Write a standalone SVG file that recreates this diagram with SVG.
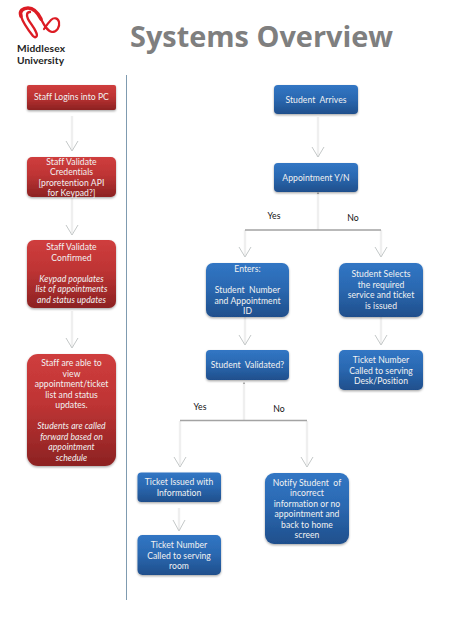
<svg xmlns="http://www.w3.org/2000/svg" width="470" height="626" viewBox="0 0 470 626">
<style>
text{font-family:Lato,"Liberation Sans",sans-serif}
.t{font-size:8.6px;fill:#f2f2f2;text-anchor:middle;white-space:pre;letter-spacing:.05px}
.i{font-style:italic}
.l{font-size:8.7px;fill:#111;text-anchor:middle}
.r{fill:url(#red);filter:url(#sh)}
.b{fill:url(#blue);filter:url(#sh)}
.s{stroke:#efefef;stroke-width:2.4;fill:none}
.h{stroke:#c4c8c8;stroke-width:1;fill:none}
.bar{stroke:#a3a3a3;stroke-width:1.4;fill:none}
.logo{fill:none;stroke:#dc1c24;stroke-linecap:round}
.lt{font-size:10.200px;font-weight:700;fill:#222}
</style>
<defs>
<linearGradient id="red" x1="0" y1="0" x2="0" y2="1"><stop offset="0" stop-color="#cf3d3d"/><stop offset=".45" stop-color="#be3434"/><stop offset="1" stop-color="#8c2222"/></linearGradient>
<linearGradient id="blue" x1="0" y1="0" x2="0" y2="1"><stop offset="0" stop-color="#3176c4"/><stop offset=".45" stop-color="#2b69b2"/><stop offset="1" stop-color="#1f4f8c"/></linearGradient>
<filter id="sh" x="-10%" y="-10%" width="120%" height="125%"><feDropShadow dx="0" dy="1.2" stdDeviation="0.8" flood-color="#000" flood-opacity=".35"/></filter>
</defs>
<rect width="470" height="626" fill="#fff"/>
<g id="logo">
<path class="logo" stroke-width="3.6" d="M21 16C19 11 23 8 28 8C34 8 38 13 41 19"/>
<path class="logo" stroke-width="2.2" d="M41 19C44 25 47 31 52 32C57 32 60 27 59 22C58 18 54 17 51 20C48 23 46 26 44 29"/>
<path class="logo" stroke-width="2.4" d="M21 16C23 23 29 31 33 36C36 39 38 36 36 32C34 27 30 23 28 19C26 15 27 12 30 12"/>
<text class="lt" x="17" y="52" textLength="48">Middlesex</text>
<text class="lt" x="17" y="63.500" textLength="47">University</text>
</g>
<text id="title" x="130" y="47" font-size="29" font-weight="700" fill="#7f7f7f" style="font-family:'Open Sans',sans-serif" textLength="263" lengthAdjust="spacingAndGlyphs">Systems Overview</text>
<line x1="126.500" y1="75" x2="126.500" y2="600" stroke="#7f9bb0" stroke-width="1"/>
<g id="connectors">
<path class="s" d="M72 116V150M72 198V233M72 311V347M318 117V157M318 193V230M245 230V256M381 230V256M245 317V344M381 317V344M244 383V420M180 421V465M307 421V465M179 508V530"/>
<path class="bar" d="M245 230H381M180 420.500H307"/>
<path stroke="#666" stroke-width="1" d="M318 192.500V194M244 382.500V384"/>
<path class="h" d="M66 141L72 151L78 141M66 225L72 235L78 225M66 338L72 348L78 338M312 147L318 157L324 147M239 247L245 257L251 247M375 247L381 257L387 247M239 335L245 345L251 335M375 335L381 345L387 335M174 457L180 467L186 457M301 457L307 467L313 457M173 520L179 531L185 520"/>
</g>
<g id="labels">
<text class="l" x="274" y="219">Yes</text>
<text class="l" x="353" y="221">No</text>
<text class="l" x="200" y="410">Yes</text>
<text class="l" x="279" y="412">No</text>
</g>
<g id="n1"><rect class="r" x="27" y="85" width="89" height="25" rx="2"/><text class="t" x="71.500" y="100">Staff Logins into PC</text></g>
<g id="n2"><rect class="r" x="27" y="157" width="89" height="40" rx="5"/><text class="t" x="71.500" y="164.500">Staff Validate</text><text class="t" x="71.500" y="175">Credentials</text><text class="t" x="71.500" y="185.500">[proretention API</text><text class="t" x="71.500" y="196">for Keypad?]</text></g>
<g id="n3"><rect class="r" x="27" y="240" width="89" height="68" rx="7"/><text class="t" x="71.500" y="250">Staff Validate</text><text class="t" x="71.500" y="260.500">Confirmed</text><text class="t i" x="71.500" y="281.500">Keypad populates</text><text class="t i" x="71.500" y="292">list of appointments</text><text class="t i" x="71.500" y="302.500">and status updates</text></g>
<g id="n4"><rect class="r" x="27" y="354" width="89" height="112" rx="11"/><text class="t" x="71.500" y="366">Staff are able to</text><text class="t" x="71.500" y="376.500">view</text><text class="t" x="71.500" y="387">appointment/ticket</text><text class="t" x="71.500" y="397.500">list and status</text><text class="t" x="71.500" y="408">updates.</text><text class="t i" x="71.500" y="429">Students are called</text><text class="t i" x="71.500" y="439.500">forward based on</text><text class="t i" x="71.500" y="450">appointment</text><text class="t i" x="71.500" y="460.500">schedule</text></g>
<g id="n5"><rect class="b" x="274" y="85" width="84" height="29" rx="4"/><text class="t" x="316" y="103">Student  Arrives</text></g>
<g id="n6"><rect class="b" x="274" y="163" width="84" height="29" rx="4"/><text class="t" x="316" y="180.500">Appointment Y/N</text></g>
<g id="n7"><rect class="b" x="206" y="263" width="83" height="54" rx="7"/><text class="t" x="247.500" y="272">Enters:</text><text class="t" x="247.500" y="293">Student  Number</text><text class="t" x="247.500" y="303.500">and Appointment</text><text class="t" x="247.500" y="314">ID</text></g>
<g id="n8"><rect class="b" x="339" y="263" width="84" height="54" rx="7"/><text class="t" x="381" y="277">Student Selects</text><text class="t" x="381" y="287.500">the required</text><text class="t" x="381" y="298">service and ticket</text><text class="t" x="381" y="308.500">is issued</text></g>
<g id="n9"><rect class="b" x="206" y="350" width="83" height="30" rx="4"/><text class="t" x="247.500" y="368">Student  Validated?</text></g>
<g id="n10"><rect class="b" x="339" y="350" width="84" height="40" rx="5"/><text class="t" x="381" y="363">Ticket Number</text><text class="t" x="381" y="373.500">Called to serving</text><text class="t" x="381" y="384">Desk/Position</text></g>
<g id="n11"><rect class="b" x="137.500" y="472.500" width="83.500" height="29.500" rx="4"/><text class="t" x="179" y="485">Ticket Issued with</text><text class="t" x="179" y="495.500">Information</text></g>
<g id="n12"><rect class="b" x="137.500" y="535" width="83.500" height="40" rx="5"/><text class="t" x="179" y="548">Ticket Number</text><text class="t" x="179" y="558.500">Called to serving</text><text class="t" x="179" y="569">room</text></g>
<g id="n13"><rect class="b" x="265" y="473" width="84" height="71" rx="9"/><text class="t" x="307" y="485.500">Notify Student  of</text><text class="t" x="307" y="496">incorrect</text><text class="t" x="307" y="506.500">information or no</text><text class="t" x="307" y="517">appointment and</text><text class="t" x="307" y="527.500">back to home</text><text class="t" x="307" y="538">screen</text></g>
</svg>
